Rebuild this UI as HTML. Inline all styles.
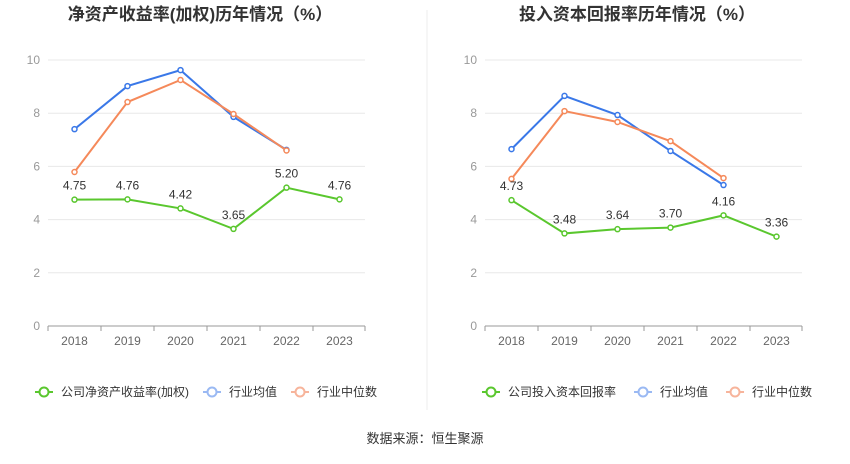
<!DOCTYPE html>
<html><head><meta charset="utf-8"><style>
body{margin:0;background:#fff;font-family:"Liberation Sans","Noto Sans CJK SC",sans-serif;}
svg text{font-family:"Liberation Sans","Noto Sans CJK SC",sans-serif;}
</style></head><body>
<svg id="c" width="850" height="459">
<line x1="427" y1="10" x2="427" y2="410" stroke="#eee"/>
<text x="425" y="443" font-size="13" fill="#333" text-anchor="middle">数据来源：恒生聚源</text>
</svg>
<script>
const years=["2018","2019","2020","2021","2022","2023"];
const yTicks=[0,2,4,6,8,10];
const leftCompany=[4.75,4.76,4.42,3.65,5.20,4.76];
const leftAvg=[7.4,9.02,9.62,7.86,6.62];
const leftMedian=[5.79,8.42,9.25,7.97,6.6];
const rightCompany=[4.73,3.48,3.64,3.70,4.16,3.36];
const rightAvg=[6.65,8.65,7.93,6.58,5.3];
const rightMedian=[5.53,8.08,7.67,6.95,5.56];
const svg=document.getElementById('c');
const NS='http://www.w3.org/2000/svg';
function mk(t,a,p){const e=document.createElementNS(NS,t);for(const k in a)e.setAttribute(k,a[k]);(p||svg).appendChild(e);return e;}
function panel(x0,title,company,avg,median,legendName,prefix,legStart,legGap){
  const g=mk('g',{});
  
  
  const L=x0+48,R=x0+365,y0=326,y1=60;
  const X=i=>L+26.5+i*53;
  const Y=v=>y0-(v/10)*(y0-y1);
  const t=mk('text',{x:x0+200,y:20,'font-size':17,'font-weight':'bold',fill:'#333','text-anchor':'middle'},g);
  t.textContent=title;
  
  
  yTicks.forEach(v=>{
    const l=mk('line',{x1:L,x2:R,y1:Y(v),y2:Y(v),stroke:v===0?'#999':'#e8e8e8'},g);
    
    
    const tt=mk('text',{x:L-8,y:Y(v)+4,'font-size':12,fill:'#999','text-anchor':'end'},g);
    tt.textContent=v;
    
    
  });
  years.forEach((y,i)=>{
    mk('line',{x1:L+i*53,x2:L+i*53,y1:y0,y2:y0+5,stroke:'#999'},g);
    const tt=mk('text',{x:X(i),y:y0+19,'font-size':12,fill:'#666','text-anchor':'middle'},g);
    tt.textContent=y;
    
    
  });
  mk('line',{x1:R,x2:R,y1:y0,y2:y0+5,stroke:'#999'},g);
  function series(vals,color,name,labels){
    const p=mk('polyline',{points:vals.map((v,i)=>X(i)+','+Y(v)).join(' '),fill:'none',stroke:color,'stroke-width':2},g);
    
    
    vals.forEach((v,i)=>{
      const c=mk('circle',{cx:X(i),cy:Y(v),r:2.5,fill:'#fff',stroke:color,'stroke-width':1.5},g);
      
      
      if(labels){
        const tt=mk('text',{x:X(i),y:Y(v)-10,'font-size':12,fill:'#333','text-anchor':'middle'},g);
        tt.textContent=v.toFixed(2);
        
        
      }
    });
  }
  series(avg,'#3a78e8','industry-avg',false);
  series(median,'#f5895a','industry-median',false);
  series(company,'#5ac72e','company',true);
  const items=[[legendName,'#5ac72e'],['行业均值','#9ab9f3'],['行业中位数','#f7b49b']];
  let lx=x0+legStart;
  items.forEach(([n,c])=>{
    const lg=mk('g',{},g);
    
    
    mk('line',{x1:lx,x2:lx+18,y1:392,y2:392,stroke:c,'stroke-width':2},lg);
    mk('circle',{cx:lx+9,cy:392,r:4.5,fill:'#fff',stroke:c,'stroke-width':2},lg);
    const tt=mk('text',{x:lx+26,y:396,'font-size':12,fill:'#333'},lg);
    tt.textContent=n;
    lx+=26+tt.getComputedTextLength()+legGap;
  });
}
panel(0,'净资产收益率(加权)历年情况（%）',leftCompany,leftAvg,leftMedian,'公司净资产收益率(加权)','left',35,14);
panel(437,'投入资本回报率历年情况（%）',rightCompany,rightAvg,rightMedian,'公司投入资本回报率','right',45,18);
</script>
</body></html>
